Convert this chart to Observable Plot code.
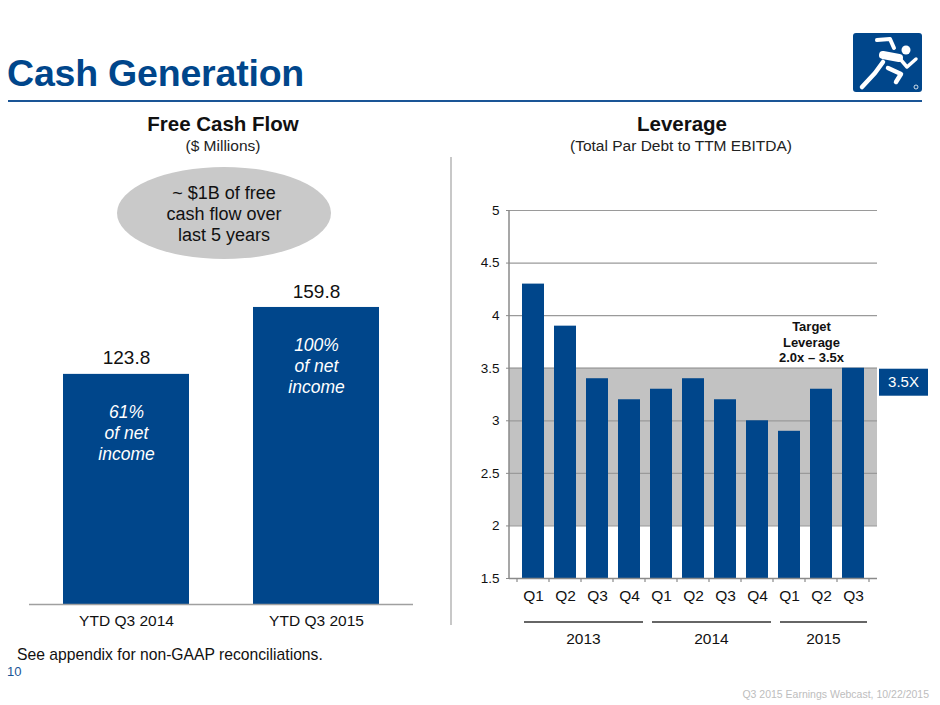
<!DOCTYPE html>
<html><head><meta charset="utf-8">
<script src="https://cdn.jsdelivr.net/npm/d3@7"></script>
<script src="https://cdn.jsdelivr.net/npm/@observablehq/plot@0.6"></script>
<style>
body{margin:0;background:#fff;font-family:"Liberation Sans",Arial,sans-serif;}
#page{position:relative;width:940px;height:705px;overflow:hidden;background:#fff;}
.abs{position:absolute;}
.ctr{text-align:center;transform:translateX(-50%);white-space:nowrap;}
</style></head><body>
<div id="page">
  <div class="abs" style="left:7px;top:52px;font-size:37.5px;font-weight:bold;color:#00468b;letter-spacing:-0.2px;">Cash Generation</div>
  <div class="abs" style="left:8px;top:100px;width:914px;height:2px;background:#1a5596;"></div>
  <svg class="abs" style="left:853px;top:33px;" width="70" height="60" viewBox="0 0 70 60">
    <rect x="0" y="0" width="69" height="59" rx="3" fill="#00468b"/>
    <g stroke="#fff" stroke-linecap="round" stroke-linejoin="round" fill="none">
      <polyline points="24,7 37,6 41,15" stroke-width="4"/>
      <line x1="30" y1="22" x2="46" y2="25" stroke-width="8"/>
      <polyline points="48,27 54,34 63,26" stroke-width="3.5"/>
      <polyline points="30,29 22,40 9,54" stroke-width="4.5"/>
      <polyline points="35,35 48,41 43,49" stroke-width="4.5"/>
    </g>
    <circle cx="53" cy="17" r="4.5" fill="#fff"/>
    <circle cx="63" cy="54" r="2" fill="none" stroke="#fff" stroke-width="0.8"/>
  </svg>

  <div class="abs ctr" style="left:223px;top:112px;font-size:20.5px;font-weight:bold;color:#111;">Free Cash Flow</div>
  <div class="abs ctr" style="left:223px;top:137px;font-size:15.5px;color:#222;">($ Millions)</div>
  <div class="abs ctr" style="left:682px;top:112px;font-size:20.5px;font-weight:bold;color:#111;">Leverage</div>
  <div class="abs ctr" style="left:681px;top:137px;font-size:15.5px;color:#222;">(Total Par Debt to TTM EBITDA)</div>

  <div class="abs" style="left:117px;top:167px;width:214px;height:92px;border-radius:50%;background:#c9c9c9;"></div>
  <div class="abs ctr" style="left:224px;top:183px;font-size:18px;line-height:21px;color:#111;text-align:center;">~ $1B of free<br>cash flow over<br>last 5 years</div>

  <div class="abs" style="left:450px;top:157px;width:1.5px;height:468px;background:#c8c8c8;"></div>

  <div id="left" class="abs" style="left:0px;top:260px;"></div>
  <div id="right" class="abs" style="left:470px;top:190px;"></div>

  <div class="abs" style="left:17px;top:646px;font-size:15.7px;color:#111;">See appendix for non-GAAP reconciliations.</div>
  <div class="abs" style="left:7px;top:664px;font-size:13px;color:#1a5596;">10</div>
  <div class="abs" style="right:11px;top:688px;font-size:10.5px;color:#bdbdbd;">Q3 2015 Earnings Webcast, 10/22/2015</div>
</div>
<script>
// ---- Data ----
const fcfCategories = ["YTD Q3 2014", "YTD Q3 2015"];
const fcfValues = [123.8, 159.8];
const fcfNotes = ["61%\nof net\nincome", "100%\nof net\nincome"];

const quarterLabels = ["Q1","Q2","Q3","Q4","Q1","Q2","Q3","Q4","Q1","Q2","Q3"];
const quarterYears  = ["2013","2013","2013","2013","2014","2014","2014","2014","2015","2015","2015"];
const leverageValues = [4.3, 3.9, 3.4, 3.2, 3.3, 3.4, 3.2, 3.0, 2.9, 3.3, 3.5];
const yearLabels = ["2013", "2014", "2015"];
const leverageTicks = [1.5, 2, 2.5, 3, 3.5, 4, 4.5, 5];
const targetRange = [2.0, 3.5];
const targetText = "Target\nLeverage\n2.0x \u2013 3.5x";
const capLabel = "3.5X";

const NAVY = "#00468b";
const FONT = '"Liberation Sans", Arial, sans-serif';

// ---- Left chart: Free Cash Flow ----
const fcfData = fcfCategories.map((c, i) => ({cat: c, value: fcfValues[i], label: fcfValues[i].toFixed(1), note: fcfNotes[i]}));
const left = Plot.plot({
  width: 470, height: 390,
  marginLeft: 29, marginRight: 57, marginTop: 28, marginBottom: 46,
  style: {fontFamily: FONT, background: "transparent", overflow: "visible", color: "#111"},
  x: {domain: fcfCategories, paddingInner: 0.335, paddingOuter: 0.173},
  y: {domain: [0, 170], axis: null},
  marks: [
    Plot.barY(fcfData, {x: "cat", y: "value", fill: NAVY}),
    Plot.ruleY([0], {stroke: "#a0a0a0", strokeWidth: 1.5}),
    Plot.axisX({tickSize: 0, tickPadding: 10, fontSize: 15.5, label: null}),
    Plot.text(fcfData, {x: "cat", y: "value", text: "label", dy: -16, fontSize: 19, fill: "#111"}),
    Plot.text(fcfData, {x: "cat", y: "value", text: "note", dy: 58, fontSize: 17.5, fontStyle: "italic", fill: "#fff", lineHeight: 1.2})
  ]
});
document.getElementById("left").appendChild(left);

// ---- Right chart: Leverage ----
const levData = leverageValues.map((v, i) => ({key: quarterYears[i] + " " + quarterLabels[i], q: quarterLabels[i], year: quarterYears[i], value: v}));
const keys = levData.map(d => d.key);
const right = Plot.plot({
  width: 470, height: 470,
  marginLeft: 39, marginRight: 63, marginTop: 20, marginBottom: 82,
  style: {fontFamily: FONT, background: "transparent", overflow: "visible", color: "#111"},
  x: {domain: keys, padding: 0.3},
  y: {domain: [1.5, 5]},
  marks: [
    Plot.rect([targetRange], {y1: d => d[0], y2: d => d[1], fill: "#c2c2c2"}),
    Plot.ruleY(leverageTicks.filter(t => t > 1.5), {stroke: "#9a9a9a", strokeWidth: 1.2}),
    Plot.barY(levData, {x: "key", y1: 1.5, y2: "value", fill: NAVY}),
    Plot.ruleY([1.5], {stroke: "#8a8a8a", strokeWidth: 1.5}),
    Plot.axisY({ticks: leverageTicks, tickSize: 3, tickPadding: 7, fontSize: 13.5, tickFormat: d => String(d), label: null, stroke: "#8a8a8a"}),
    Plot.axisX({tickSize: 0, tickPadding: 11, fontSize: 15.5, tickFormat: k => k.split(" ")[1], label: null}),
    Plot.text([{key: "2015 Q2", t: targetText}], {x: "key", y: () => targetRange[1], text: "t", lineAnchor: "bottom", dy: -6, dx: -10, fontSize: 13, fontWeight: "bold", lineHeight: 1.2, fill: "#111"})
  ]
});
document.getElementById("right").appendChild(right);

// decorations derived from Plot's scales
const xs = right.scale("x"), ys = right.scale("y");
const svg = d3.select(right);
const step = xs.step, bw = xs.bandwidth;
const x0 = xs.range[0], x1 = xs.range[1];
const yBase = ys.apply(1.5), yTop = ys.apply(5);
// y axis line
svg.append("line").attr("x1", x0).attr("x2", x0).attr("y1", yTop).attr("y2", yBase)
  .attr("stroke", "#8a8a8a").attr("stroke-width", 1.5);
// category boundary ticks
for (let i = 0; i <= keys.length; i++) {
  const xx = i < keys.length ? xs.apply(keys[i]) - (step - bw) / 2 : xs.apply(keys[keys.length - 1]) + bw + (step - bw) / 2;
  svg.append("line").attr("x1", xx).attr("x2", xx).attr("y1", yBase).attr("y2", yBase + 4)
    .attr("stroke", "#8a8a8a").attr("stroke-width", 1.2);
}
// year group lines + labels
yearLabels.forEach(yr => {
  const ks = levData.filter(d => d.year === yr).map(d => d.key);
  const a = xs.apply(ks[0]) + 2;
  const b = xs.apply(ks[ks.length - 1]) + bw + (step - bw) / 2 - 2;
  svg.append("line").attr("x1", a).attr("x2", b).attr("y1", yBase + 44).attr("y2", yBase + 44)
    .attr("stroke", "#333").attr("stroke-width", 1.3);
  svg.append("text").attr("x", (a + b) / 2).attr("y", yBase + 61).attr("dy", "0.35em")
    .attr("text-anchor", "middle").attr("font-size", 15.5).attr("fill", "#111").text(yr);
});
// 3.5X cap label box
const yc = ys.apply(targetRange[1]);
svg.append("rect").attr("x", x1 + 2).attr("y", yc + 1).attr("width", 49).attr("height", 27).attr("fill", NAVY);
svg.append("text").attr("x", x1 + 26.5).attr("y", yc + 14.5).attr("dy", "0.35em").attr("text-anchor", "middle")
  .attr("font-size", 15).attr("fill", "#fff").text(capLabel);
</script>
</body></html>
